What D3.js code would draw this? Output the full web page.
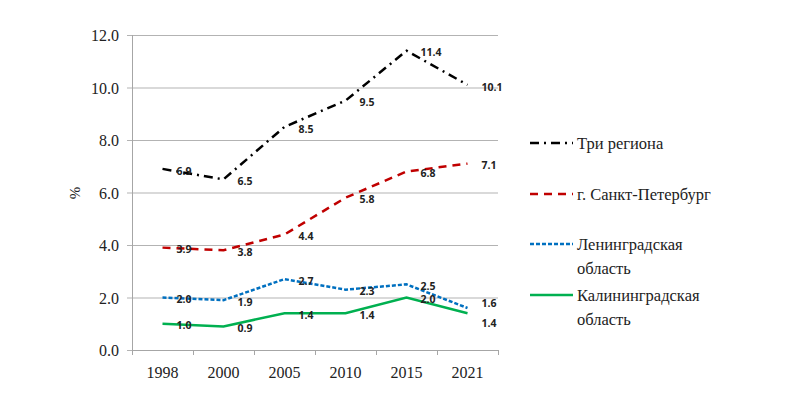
<!DOCTYPE html>
<html>
<head>
<meta charset="utf-8">
<script src="https://cdn.jsdelivr.net/npm/d3@7"></script>
<style>
  body { margin: 0; background: #fff; }
  #wrap { position: relative; width: 792px; height: 393px; }
  svg { display: block; position: absolute; left: 0; top: 0; }
  .lbl {
    position: absolute;
    font-family: 'Liberation Serif', 'Times New Roman', serif;
    color: #222;
    line-height: 1;
    white-space: nowrap;
  }
</style>
</head>
<body>
<div id="wrap">
<svg id="chart" width="792" height="393"></svg>
</div>
<script>
// Данные
const years = ["1998", "2000", "2005", "2010", "2015", "2021"];
const triRegiona = [6.9, 6.5, 8.5, 9.5, 11.4, 10.1];
const spb = [3.9, 3.8, 4.4, 5.8, 6.8, 7.1];
const lenObl = [2.0, 1.9, 2.7, 2.3, 2.5, 1.6];
const kalObl = [1.0, 0.9, 1.4, 1.4, 2.0, 1.4];
const yTicks = [0, 2, 4, 6, 8, 10, 12];

// nudge — сдвиг подписи последней точки (как в оригинале)
const series = [
  { name: ["Три региона"], values: triRegiona, color: "#000000", dash: "9,5,2,5", ly: 143, nudge: 0 },
  { name: ["г. Санкт-Петербург"], values: spb, color: "#c00000", dash: "8,6", ly: 194, nudge: 0 },
  { name: ["Ленинградская", "область"], values: lenObl, color: "#0070c0", dash: "4,2", ly: 244, nudge: -7 },
  { name: ["Калининградская", "область"], values: kalObl, color: "#00b050", dash: null, ly: 295, nudge: 8 }
];

const wrap = d3.select("#wrap");
const svg = d3.select("#chart");
const mLeft = 132, mRight = 498, mTop = 35, mBottom = 350;

const x = d3.scaleBand().domain(years).range([mLeft, mRight]);
const y = d3.scaleLinear().domain([0, 12]).range([mBottom, mTop]);

// текст с засечками — HTML поверх svg
function label(px, py, txt, size, anchor) {
  const tx = anchor === "end" ? "-100%" : anchor === "middle" ? "-50%" : "0";
  return wrap.append("div")
    .attr("class", "lbl")
    .style("left", px + "px")
    .style("top", py + "px")
    .style("font-size", size + "px")
    .style("transform", `translate(${tx},-50%)`)
    .text(txt);
}

// Сетка
svg.append("g")
  .selectAll("line")
  .data(yTicks)
  .join("line")
  .attr("x1", mLeft - 5)
  .attr("x2", mRight)
  .attr("y1", d => y(d) + 0.5)
  .attr("y2", d => y(d) + 0.5)
  .attr("stroke", "#b3b3b3")
  .attr("stroke-width", 1);

// Ось Y
svg.append("line")
  .attr("x1", mLeft + 0.5).attr("x2", mLeft + 0.5)
  .attr("y1", mTop).attr("y2", mBottom)
  .attr("stroke", "#a6a6a6");

yTicks.forEach(d => label(119, y(d) + 1, d.toFixed(1), 16, "end"));

label(75, 193, "%", 15, "middle")
  .style("transform", "translate(-50%,-50%) rotate(-90deg)");

// Ось X
svg.append("line")
  .attr("x1", mLeft).attr("x2", mRight)
  .attr("y1", mBottom + 0.5).attr("y2", mBottom + 0.5)
  .attr("stroke", "#a6a6a6");

const bounds = years.map(d => x(d) + x.bandwidth()).concat([mLeft]);
svg.append("g")
  .selectAll("line")
  .data(bounds)
  .join("line")
  .attr("x1", d => Math.round(d) + 0.5)
  .attr("x2", d => Math.round(d) + 0.5)
  .attr("y1", mBottom)
  .attr("y2", mBottom + 5)
  .attr("stroke", "#a6a6a6");

years.forEach(d => label(x(d) + x.bandwidth() / 2, 373, d, 16, "middle"));

// Линии
const line = d3.line()
  .x((d, i) => x(years[i]) + x.bandwidth() / 2)
  .y(d => y(d));

series.forEach(s => {
  svg.append("path")
    .datum(s.values)
    .attr("d", line)
    .attr("fill", "none")
    .attr("stroke", s.color)
    .attr("stroke-width", 2.5)
    .attr("stroke-dasharray", s.dash);
});

// Подписи значений
series.forEach(s => {
  const last = s.values.length - 1;
  svg.append("g")
    .selectAll("text")
    .data(s.values)
    .join("text")
    .attr("x", (d, i) => x(years[i]) + x.bandwidth() / 2 + 14)
    .attr("y", (d, i) => y(d) + 2 + (i === last ? s.nudge : 0))
    .attr("dy", "0.35em")
    .style("font-family", "'Open Sans', sans-serif")
    .style("font-weight", "bold")
    .style("font-size", "10.5px")
    .attr("fill", "#222")
    .text(d => d.toFixed(1));
});

// Легенда
series.forEach(s => {
  svg.append("line")
    .attr("x1", 530).attr("x2", 573)
    .attr("y1", s.ly).attr("y2", s.ly)
    .attr("stroke", s.color)
    .attr("stroke-width", 2.5)
    .attr("stroke-dasharray", s.dash);
  s.name.forEach((t, k) => label(577, s.ly + k * 24 + 1, t, 16.5, "start"));
});
</script>
</body>
</html>
